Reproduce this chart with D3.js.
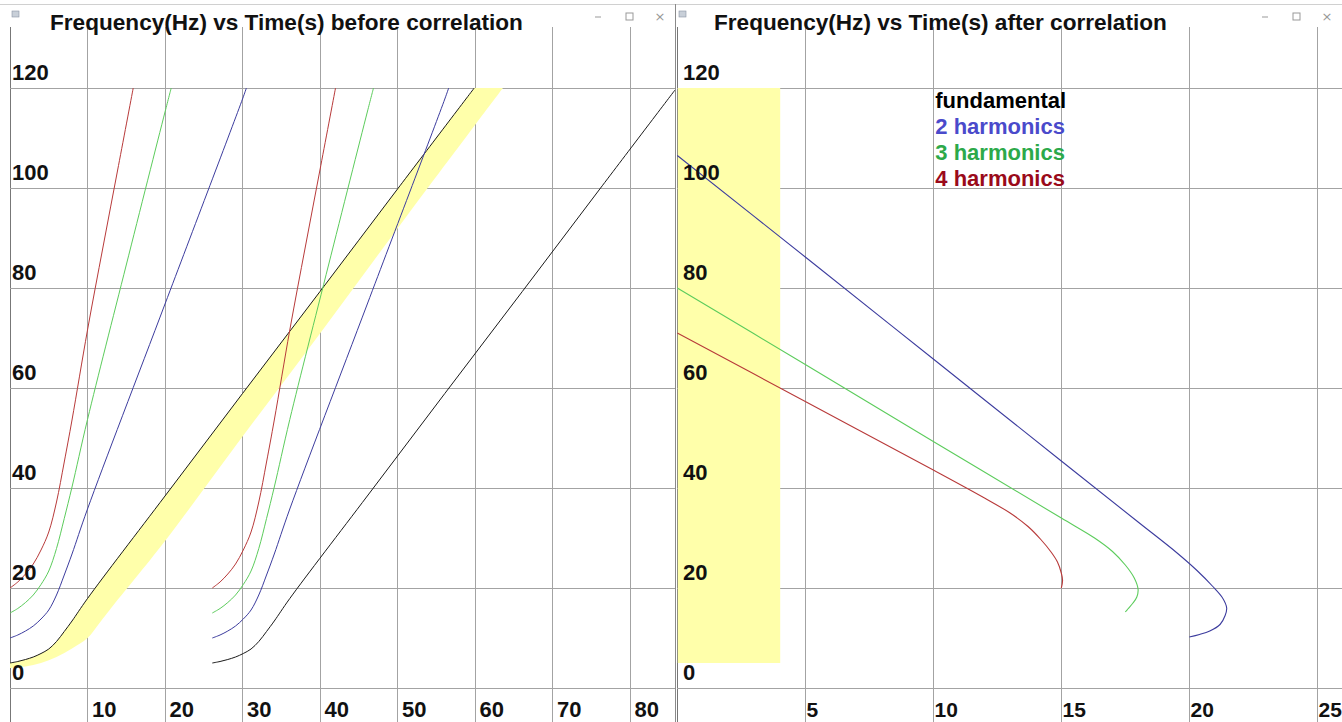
<!DOCTYPE html>
<html>
<head>
<meta charset="utf-8">
<script src="https://cdn.jsdelivr.net/npm/d3@7"></script>
<style>
html,body{margin:0;padding:0;background:#fff;}
svg{display:block;font-family:"Liberation Sans",Arial,sans-serif;}
</style>
</head>
<body>
<svg id="chart" width="1342" height="722"></svg>
<script>
// ---------- data ----------
const yTicks = [0, 20, 40, 60, 80, 100, 120];
const leftXTicks = [10, 20, 30, 40, 50, 60, 70, 80];
const rightXTicks = [5, 10, 15, 20, 25];
const titles = ["Frequency(Hz) vs Time(s) before correlation", "Frequency(Hz) vs Time(s) after correlation"];
const legendLabels = ["fundamental", "2 harmonics", "3 harmonics", "4 harmonics"];

// before correlation: first burst
const fund1 = [[0,5.0],[1,5.3],[2,5.7],[3,6.2],[4,6.9],[5,7.8],[6,9.3],[7,11.3],[8,13.4],[10,17.9],[20,38.4],[30,58.9],[40,79.3],[50,99.8],[59.9,120]];
const harm2a = [[0,10],[1,10.6],[2,11.4],[3,12.4],[4,13.8],[5,15.6],[6,18.6],[7,22.6],[8,26.8],[10,35.8],[20,76.8],[30,117.8],[30.5,120]];
const harm3a = [[0,15],[1,15.9],[2,17.1],[3,18.6],[4,20.7],[5,23.4],[6,27.9],[7,33.9],[8,40.2],[10,53.7],[15,84.6],[20,115.2],[20.8,120]];
const harm4a = [[0,20],[1,21.2],[2,22.8],[3,24.8],[4,27.6],[5,31.2],[6,37.2],[7,45.2],[8,53.6],[10,71.6],[12,88.2],[14,104.5],[15.9,120]];
// before correlation: second burst
const fund2 = [[26.1,5.0],[27.1,5.3],[28.1,5.7],[29.1,6.2],[30.1,6.9],[31.1,7.8],[32.1,9.3],[33.1,11.3],[34.1,13.4],[36.1,17.9],[46.1,38.4],[56.1,58.9],[66.1,79.3],[76.1,99.8],[85.8,119.6]];
const harm2b = [[26.1,10],[27.1,10.6],[28.1,11.4],[29.1,12.4],[30.1,13.8],[31.1,15.6],[32.1,18.6],[33.1,22.6],[34.1,26.8],[36.1,35.8],[46.1,76.8],[56.1,117.8],[56.6,120]];
const harm3b = [[26.1,15],[27.1,15.9],[28.1,17.1],[29.1,18.6],[30.1,20.7],[31.1,23.4],[32.1,27.9],[33.1,33.9],[34.1,40.2],[36.1,53.7],[41.1,84.6],[46.1,115.2],[46.9,120]];
const harm4b = [[26.1,20],[27.1,21.2],[28.1,22.8],[29.1,24.8],[30.1,27.6],[31.1,31.2],[32.1,37.2],[33.1,45.2],[34.1,53.6],[36.1,71.6],[38.1,88.2],[40.1,104.5],[42.0,120]];
// yellow band lower edge (upper edge = fund1)
const bandLower = [[0,4.0],[2,4.3],[4,5.0],[6,6.2],[8,7.9],[10,10.0],[11.5,12.9],[13,15.9],[20,29.4],[30,50.3],[40,70.9],[50,91.9],[60,112.6],[63.6,120]];

// after correlation
const corr2 = [[0,106.5],[5,86.2],[10,65.8],[15,45.4],[18,33.2],[19.5,27.1],[20.3,23.5],[20.9,20.4],[21.3,18],[21.46,16],[21.4,14.5],[21.2,12.7],[20.8,11.4],[20.4,10.7],[20,10.2]];
const corr3 = [[0,80],[5,64.7],[10,49.3],[15,34],[16.3,30],[17,27.3],[17.5,24.6],[17.85,22],[18.0,19.7],[17.95,18.2],[17.8,17],[17.6,15.8],[17.5,15.2]];
const corr4 = [[0,71],[5,57.3],[10,43.6],[12,38],[13,35],[13.7,32.3],[14.2,29.7],[14.6,27.2],[14.85,25.2],[15.0,23],[15.05,21.5],[15.0,20]];
const rightBand = {t0: 0, t1: 4, v0: 5, v1: 120};

// ---------- drawing ----------
const svg = d3.select("#chart");
const FAM = "'Liberation Sans', Arial, sans-serif";
const col = {fund:"#1a1a1a", h2:"#3c3c9e", h3:"#5ccc5c", h4:"#b83a3a", grid:"#a3a3a3", yellow:"#ffffaa"};
const legendColors = ["#000000", "#4a4acb", "#2ca94a", "#9a0a1a"];

const y = d3.scaleLinear().domain([0, 120]).range([688, 88]);
const xL = d3.scaleLinear().domain([0, 85.8]).range([10, 675]);
const xR = d3.scaleLinear().domain([0, 26]).range([677.3, 1342.9]);

const defs = svg.append("defs");
defs.append("clipPath").attr("id","clipL").append("rect").attr("x",10).attr("y",y(120)).attr("width",665).attr("height",640);

function panel(x, xTicks, x0px, x1px, title, titleX){
  const g = svg.append("g");
  g.append("line").attr("x1",x0px-10).attr("x2",x1px).attr("y1",4.5).attr("y2",4.5).attr("stroke","#d0d0d0");
  g.append("rect").attr("x",x0px+2).attr("y",11).attr("width",7).attr("height",6).attr("fill","#c8cfd8").attr("stroke","#8a95a5").attr("stroke-width",0.6);
  const cx = x1px - 80;
  g.append("line").attr("x1",cx).attr("x2",cx+6).attr("y1",17).attr("y2",17).attr("stroke","#999");
  g.append("rect").attr("x",cx+31).attr("y",13).attr("width",7).attr("height",7).attr("fill","none").attr("stroke","#999");
  g.append("text").attr("x",cx+65).attr("y",21).attr("font-size",13).attr("fill","#999").attr("text-anchor","middle").style("font-family","'DejaVu Sans',sans-serif").text("×");
  g.selectAll(".vg").data([0].concat(xTicks)).join("line")
    .attr("x1",d=>x(d)).attr("x2",d=>x(d)).attr("y1",27).attr("y2",722)
    .attr("stroke",d=>d===0?"#777":col.grid).attr("stroke-width",1).attr("shape-rendering","crispEdges");
  g.selectAll(".hg").data(yTicks).join("line")
    .attr("x1",x0px).attr("x2",x1px).attr("y1",d=>y(d)).attr("y2",d=>y(d))
    .attr("stroke",col.grid).attr("stroke-width",1).attr("shape-rendering","crispEdges");
  g.append("text").attr("x",titleX).attr("y",30).style("font-family",FAM).style("font-weight","bold").style("font-size","22.6px").attr("fill","#111").text(title);
  return g;
}

const gL = panel(xL, leftXTicks, 10, 675, titles[0], 50);
const gR = panel(xR, rightXTicks, 677, 1342, titles[1], 714);

svg.append("line").attr("x1",675.5).attr("x2",675.5).attr("y1",4).attr("y2",722).attr("stroke","#8a8a8a");

// yellow band left
const lineL = d3.line().x(d=>xL(d[0])).y(d=>y(d[1])).curve(d3.curveCatmullRom.alpha(0.5));
const upper = lineL(fund1);
const lower = lineL(bandLower.slice().reverse());
gL.append("path").attr("d", upper + "L" + lower.slice(1) + "Z").attr("fill",col.yellow).attr("clip-path","url(#clipL)");

// yellow rect right
gR.append("rect").attr("x",xR(rightBand.t0)+0.5).attr("y",y(rightBand.v1)).attr("width",xR(rightBand.t1)-xR(rightBand.t0))
  .attr("height",y(rightBand.v0)-y(rightBand.v1)).attr("fill",col.yellow);

// curves left
const leftSeries = [[fund1,col.fund],[fund2,col.fund],[harm2a,col.h2],[harm2b,col.h2],[harm3a,col.h3],[harm3b,col.h3],[harm4a,col.h4],[harm4b,col.h4]];
gL.selectAll(".c").data(leftSeries).join("path")
  .attr("d",d=>lineL(d[0])).attr("fill","none").attr("stroke",d=>d[1]).attr("stroke-width",1).attr("clip-path","url(#clipL)");

// curves right
const lineR = d3.line().x(d=>xR(d[0])).y(d=>y(d[1])).curve(d3.curveCatmullRom.alpha(0.5));
const rightSeries = [[corr2,col.h2],[corr3,col.h3],[corr4,col.h4]];
gR.selectAll(".c").data(rightSeries).join("path")
  .attr("d",d=>lineR(d[0])).attr("fill","none").attr("stroke",d=>d[1]).attr("stroke-width",1.1);

// tick labels
function labels(g, x, xTicks, yLabelX, xOff, xSize){
  g.selectAll(".yl").data(yTicks).join("text")
    .attr("x",yLabelX).attr("y",d=>y(d)-8).style("font-family",FAM).style("font-weight","bold").style("font-size","22px").attr("fill","#111").text(d=>d);
  g.selectAll(".xl").data(xTicks).join("text")
    .attr("x",d=>x(d)+xOff).attr("y",717).style("font-family",FAM).style("font-weight","bold").style("font-size",xSize).attr("fill","#111").text(d=>d);
}
labels(gL, xL, leftXTicks, 12, 4.5, "22px");
labels(gR, xR, rightXTicks, 683, 1.2, "21px");

// legend
gR.selectAll(".lg").data(legendLabels).join("text")
  .attr("x",xR(10)+2).attr("y",(d,i)=>y(120)+20+i*26).style("font-family",FAM).style("font-weight","bold").style("font-size","22px")
  .attr("fill",(d,i)=>legendColors[i]).text(d=>d);
</script>
</body>
</html>
